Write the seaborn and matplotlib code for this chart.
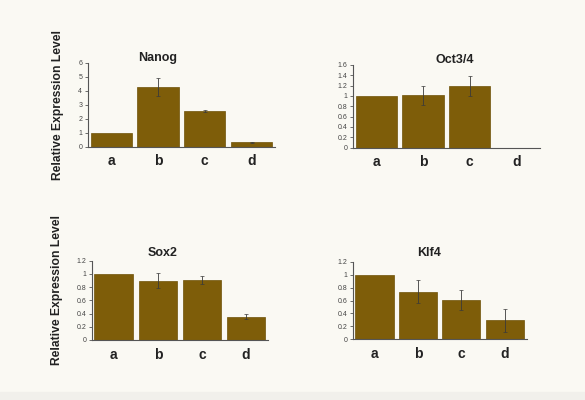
import matplotlib
matplotlib.use("Agg")
import matplotlib.pyplot as plt
import numpy as np
import pandas as pd
import seaborn as sns

groups = ["a", "b", "c", "d"]

nanog_mean = [1.0, 4.29, 2.55, 0.31]
nanog_err = [0.0, 0.63, 0.07, 0.02]

oct_mean = [1.0, 1.01, 1.19, 0.0]
oct_err = [0.0, 0.19, 0.19, 0.0]

sox2_mean = [1.0, 0.90, 0.91, 0.355]
sox2_err = [0.0, 0.115, 0.06, 0.04]

klf4_mean = [1.0, 0.74, 0.61, 0.29]
klf4_err = [0.0, 0.18, 0.16, 0.185]

titles = ["Nanog", "Oct3/4", "Sox2", "Klf4"]
ylims = [6, 1.6, 1.2, 1.2]
yticks = [
    [0, 1, 2, 3, 4, 5, 6],
    [0, 0.2, 0.4, 0.6, 0.8, 1, 1.2, 1.4, 1.6],
    [0, 0.2, 0.4, 0.6, 0.8, 1, 1.2],
    [0, 0.2, 0.4, 0.6, 0.8, 1, 1.2],
]

sns.set_style("white")
plt.rcParams["font.family"] = ["Liberation Sans", "DejaVu Sans"]

bg = "#faf9f3"
bar_color = "#7e5d09"

fig = plt.figure(figsize=(5.85, 4.0), dpi=100, facecolor=bg)
# faint band along the bottom edge, as in the screenshot
fig.patches.append(plt.Rectangle((0, 0), 1, 0.02, transform=fig.transFigure,
                                 color="#f1f0eb", zorder=0))

positions = [
    [0.150, 0.633, 0.320, 0.210],
    [0.603, 0.631, 0.320, 0.207],
    [0.157, 0.150, 0.301, 0.198],
    [0.603, 0.1525, 0.297, 0.1925],
]
title_xy = [(0.374, 1.056), (0.545, 1.06), (0.40, 1.097), (0.44, 1.117)]

series = [
    (nanog_mean, nanog_err),
    (oct_mean, oct_err),
    (sox2_mean, sox2_err),
    (klf4_mean, klf4_err),
]

for i, (means, errs) in enumerate(series):
    ax = fig.add_axes(positions[i])
    ax.set_facecolor(bg)
    df = pd.DataFrame({"group": groups, "value": means})
    sns.barplot(data=df, x="group", y="value", color=bar_color, saturation=1,
                width=0.88, errorbar=None, ax=ax, edgecolor="#6e5208", linewidth=0.5)
    x = np.arange(len(groups))
    has_err = np.array(errs) > 0
    ax.errorbar(x[has_err], np.array(means)[has_err], yerr=np.array(errs)[has_err],
                fmt="none", ecolor="#3a3a3a", elinewidth=0.6, capsize=1.5, capthick=0.5)
    ax.set_xlim(-0.5, 3.5)
    ax.set_ylim(0, ylims[i])
    ax.set_yticks(yticks[i])
    ax.set_yticklabels([f"{t:g}" for t in yticks[i]])
    ax.set_xlabel("")
    ax.set_ylabel("")
    for s in ["top", "right"]:
        ax.spines[s].set_visible(False)
    for s in ["left", "bottom"]:
        ax.spines[s].set_color("#555555")
        ax.spines[s].set_linewidth(0.8)
    ax.tick_params(axis="y", left=True, length=2, width=0.6, color="#555555",
                   labelsize=5, labelcolor="#444444", pad=2)
    ax.tick_params(axis="x", bottom=False, labelsize=10, pad=2)
    for lab in ax.get_xticklabels():
        lab.set_fontweight("bold")
        lab.set_color("#222222")
    ax.text(title_xy[i][0], title_xy[i][1], titles[i], transform=ax.transAxes,
            ha="center", va="center", fontsize=9, fontweight="bold", color="#222222")

fig.text(0.099, 0.738, "Relative Expression Level", rotation=90, ha="center",
         va="center", fontsize=8.7, fontweight="bold", color="#222222")
fig.text(0.097, 0.275, "Relative Expression Level", rotation=90, ha="center",
         va="center", fontsize=8.7, fontweight="bold", color="#222222")

fig.savefig("out.png", dpi=100, facecolor=bg)
